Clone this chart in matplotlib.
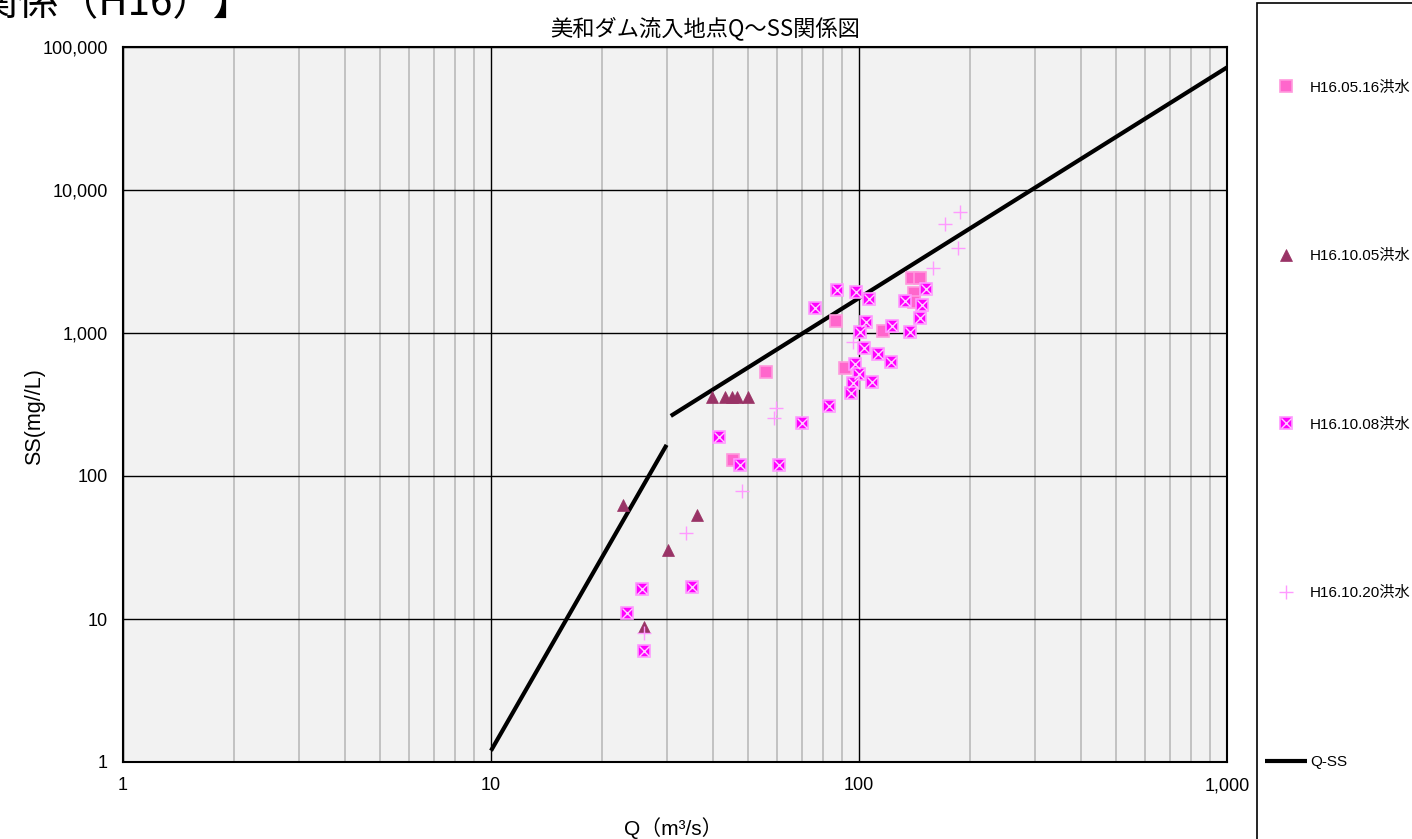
import matplotlib
matplotlib.use('Agg')
import matplotlib.pyplot as plt
from matplotlib.ticker import LogLocator, FuncFormatter, NullLocator, NullFormatter
from matplotlib.patches import Rectangle
import numpy as np

plt.rcParams['font.family'] = ['Liberation Sans', 'Noto Sans CJK JP']

# H16.05.16 flood
q_0516 = [45.5, 56.0, 86.6, 91.6, 116.4, 139.6, 146.5, 141.0, 141.0]
ss_0516 = [129, 533, 1213, 572, 1041, 2437, 2437, 1895, 1656]

# H16.10.05 flood
q_1005 = [22.9, 26.1, 30.2, 36.2, 39.8, 43.3, 45.1, 46.5, 49.8]
ss_1005 = [62.7, 8.84, 30.4, 53.4, 357, 357, 357, 357, 357]

# H16.10.08 flood
q_1008 = [23.4, 25.8, 26.1, 35.2, 41.7, 47.5, 60.6, 70.0, 82.9, 75.9,
          87.3, 98.0, 106.5, 104.5, 100.6, 122.7, 133.0, 151.7, 148.6, 146.5,
          138.0, 103.4, 112.4, 122.4, 97.7, 100.0, 108.4, 96.4, 94.9]
ss_1008 = [11.0, 16.1, 6.0, 16.8, 188, 119, 119, 235, 309, 1503,
           2000, 1945, 1740, 1200, 1011, 1119, 1683, 2042, 1563, 1267,
           1011, 782, 710, 627, 604, 514, 456, 445, 379]

# H16.10.20 flood
q_1020 = [26.1, 33.9, 48.0, 58.7, 59.5, 96.1, 158.6, 186.2, 171.4, 188.2]
ss_1020 = [8.0, 40.1, 78.9, 253, 297, 869, 2863, 3910, 5781, 6984]

# Q-SS rating curve (two branches)
q_curve = [10, 30, np.nan, 30.8, 1000]
ss_curve = [1.2, 165, np.nan, 263, 72000]

legend_labels = ['H16.05.16洪水', 'H16.10.05洪水', 'H16.10.08洪水', 'H16.10.20洪水', 'Q-SS']

fig = plt.figure(figsize=(14.12, 8.39), dpi=100)
ax = fig.add_axes([123/1412, 77/839, 1104/1412, 715/839])
ax.set_facecolor('#F2F2F2')
ax.set_xscale('log')
ax.set_yscale('log')
ax.set_xlim(1, 1000)
ax.set_ylim(1, 100000)

ax.xaxis.set_major_locator(LogLocator(base=10))
ax.xaxis.set_minor_locator(LogLocator(base=10, subs=np.arange(2, 10)))
ax.xaxis.set_minor_formatter(NullFormatter())
ax.yaxis.set_major_locator(LogLocator(base=10))
ax.yaxis.set_minor_locator(NullLocator())
fmt = FuncFormatter(lambda v, p: f'{v:,.0f}')
ax.xaxis.set_major_formatter(fmt)
ax.yaxis.set_major_formatter(fmt)
ax.tick_params(which='both', length=0, labelsize=13)
ax.tick_params(axis='x', pad=11)
ax.tick_params(axis='y', pad=11)

ax.grid(which='minor', axis='x', color='#BFBFBF', lw=1.3, zorder=0)
ax.grid(which='major', color='black', lw=1.0, zorder=0)
ax.set_axisbelow(True)
for s in ax.spines.values():
    s.set_color('black')
    s.set_linewidth(1.5)

curve, = ax.plot(q_curve, ss_curve, color='black', lw=3, solid_capstyle='butt', zorder=3)

h1, = ax.plot(q_0516, ss_0516, ls='none', marker='s', ms=8, mfc='#FF66CC',
              mec='#FF99DD', mew=1.2, zorder=4)
h2, = ax.plot(q_1005, ss_1005, ls='none', marker='^', ms=8, mfc='#993366',
              mec='#993366', mew=0.5, zorder=4)
h3a, = ax.plot(q_1008, ss_1008, ls='none', marker='s', ms=8, mfc='#FF00FF',
               mec='#FF99FF', mew=1.2, zorder=5)
h3b, = ax.plot(q_1008, ss_1008, ls='none', marker='x', ms=7, mec='#FFCCFF',
               mew=1.0, zorder=5)
h4, = ax.plot(q_1020, ss_1020, ls='none', marker='+', ms=10.5, mec='#FF99FF',
              mew=1.0, zorder=5)

fig.text(705/1412, 1 - 28/839, '美和ダム流入地点Q～SS関係図', ha='center', va='center',
         fontsize=16, family=['Noto Sans CJK JP'])
fig.text(673/1412, 1 - 828/839, 'Q（m³/s）', ha='center', va='center',
         fontsize=15, family=['Liberation Sans', 'Noto Sans CJK JP'])
fig.text(35/1412, 1 - 417/839, 'SS(mg//L)', ha='center', va='center',
         rotation=90, fontsize=15.5)

# page heading, only its tail fits on the sheet
fig.text(253/1412, 1 - 15/839, '【美和ダム流入地点Q～SS関係（H16）】', ha='right',
         va='baseline', fontsize=29, family=['Noto Sans CJK JP'])

# legend panel
fig.add_artist(Rectangle((1257/1412, -0.02), 0.2, 1.02 - 3/839,
                         transform=fig.transFigure, facecolor='white',
                         edgecolor='black', lw=1.2, zorder=0))
fig.legend([h1, h2, (h3a, h3b), h4, curve], legend_labels,
           loc='upper left', bbox_to_anchor=(1265/1412, 1 - 80.5/839),
           frameon=False, fontsize=11, labelspacing=10.12, handlelength=2.75,
           handletextpad=0.2, borderpad=0, borderaxespad=0)

fig.savefig('out.png', dpi=100)
